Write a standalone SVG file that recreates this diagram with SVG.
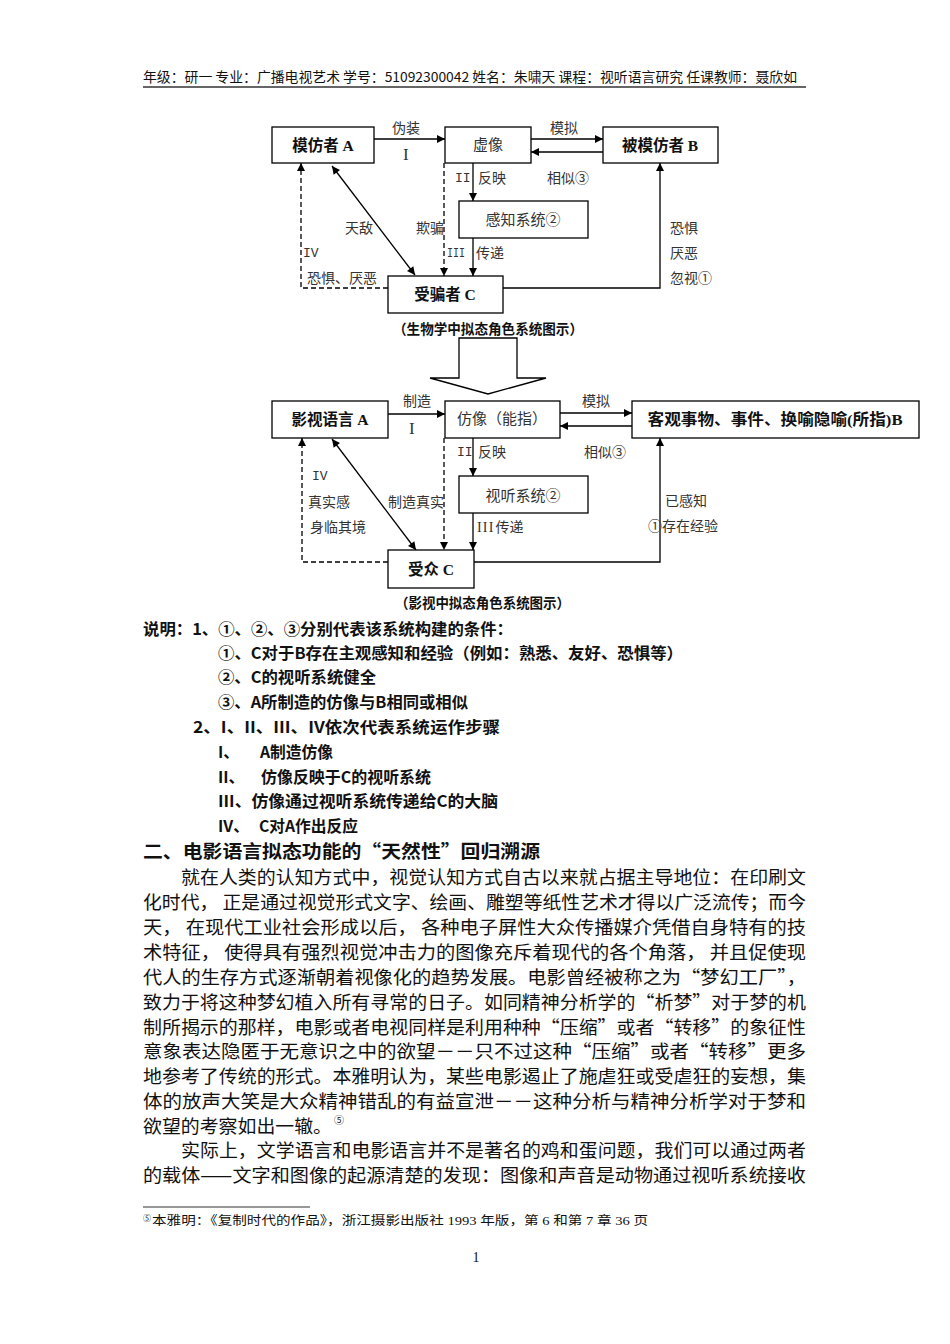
<svg xmlns="http://www.w3.org/2000/svg" width="950" height="1344" viewBox="0 0 950 1344">
<style>
text{fill:#111}
.box{fill:#fff;stroke:#000;stroke-width:1.3}
.bl{font-family:"Liberation Serif","Noto Sans CJK SC",serif;font-weight:bold;font-size:15.5px;text-anchor:middle;dominant-baseline:central}
.nl{font-family:"Noto Sans CJK SC",sans-serif;font-size:15px;text-anchor:middle;dominant-baseline:central;fill:#333}
.lb{font-family:"Liberation Serif","Noto Sans CJK SC",serif;font-size:14px;dominant-baseline:central;fill:#333}
.rm{font-family:"Liberation Mono",monospace;font-size:13px;dominant-baseline:central;fill:#333}
.rn{font-family:"Liberation Serif",serif;font-size:17px;dominant-baseline:central;fill:#333}
.cap{font-family:"Noto Sans CJK SC",sans-serif;font-weight:bold;font-size:14px;dominant-baseline:central}
.ln{fill:none;stroke:#000;stroke-width:1.3}
.ds{fill:none;stroke:#000;stroke-width:1.3;stroke-dasharray:5,3}
.ex{font-family:"Noto Sans CJK SC",sans-serif;font-weight:bold;font-size:16px;dominant-baseline:central}
.bd{font-family:"Noto Sans CJK SC",sans-serif;font-size:18.5px;dominant-baseline:central;fill:#111}
</style>
<defs>
<marker id="ah" viewBox="0 0 10 10" refX="10" refY="5" markerWidth="9" markerHeight="8" markerUnits="userSpaceOnUse" orient="auto-start-reverse"><path d="M0,0 L10,5 L0,10 z" fill="#000"/></marker>
</defs>

<g id="header">
<text x="143" y="76" font-family="Noto Sans CJK SC,sans-serif" font-size="13.5" dominant-baseline="central" textLength="654" lengthAdjust="spacingAndGlyphs" fill="#222">年级：研一 专业：广播电视艺术 学号：51092300042 姓名：朱啸天 课程：视听语言研究 任课教师：聂欣如</text>
<line x1="143" y1="87" x2="806" y2="87" stroke="#333" stroke-width="1.6"/>
</g>

<!-- Top diagram -->
<g id="connectors-top">
<line class="ln" x1="374" y1="139" x2="445" y2="139" marker-end="url(#ah)"/>
<line class="ln" x1="531" y1="139" x2="603" y2="139" marker-end="url(#ah)"/>
<line class="ln" x1="603" y1="152" x2="531" y2="152" marker-end="url(#ah)"/>
<line class="ln" x1="473" y1="163" x2="473" y2="201" marker-end="url(#ah)"/>
<line class="ln" x1="473" y1="238" x2="473" y2="276" marker-end="url(#ah)"/>
<line class="ds" x1="444" y1="163" x2="444" y2="276" marker-end="url(#ah)"/>
<line class="ln" x1="332" y1="166" x2="415" y2="275" marker-start="url(#ah)" marker-end="url(#ah)"/>
<polyline class="ds" points="388,288 301,288 301,163" marker-end="url(#ah)"/>
<polyline class="ln" points="503,288 660,288 660,163" marker-end="url(#ah)"/>
</g>
<g id="nodeA1"><rect class="box" x="272" y="127" width="102" height="36"/><text class="bl" x="323" y="145">模仿者 A</text></g>
<g id="node-xuxiang"><rect class="box" x="445" y="127" width="86" height="36"/><text class="nl" x="488" y="143">虚像</text></g>
<g id="nodeB1"><rect class="box" x="603" y="127" width="115" height="36"/><text class="bl" x="660" y="145">被模仿者 B</text></g>
<g id="node-ganzhi"><rect class="box" x="459" y="201" width="129" height="37"/><text class="nl" x="523" y="218">感知系统②</text></g>
<g id="nodeC1"><rect class="box" x="388" y="276" width="115" height="37"/><text class="bl" x="445" y="294">受骗者 C</text></g>
<g id="labels-top">
<text class="lb" x="392" y="128">伪装</text>
<text class="rn" x="403" y="154">I</text>
<text class="lb" x="550" y="128">模拟</text>
<text class="rm" x="455" y="178">II</text><text class="lb" x="478" y="178">反映</text>
<text class="lb" x="547" y="178">相似③</text>
<text class="lb" x="345" y="228">天敌</text>
<text class="lb" x="416" y="228">欺骗</text>
<text class="rm" x="447" y="253" textLength="18" lengthAdjust="spacingAndGlyphs">III</text><text class="lb" x="476" y="253">传递</text>
<text class="rm" x="303" y="253">IV</text>
<text class="lb" x="307" y="278">恐惧、厌恶</text>
<text class="lb" x="670" y="228">恐惧</text>
<text class="lb" x="670" y="253">厌恶</text>
<text class="lb" x="670" y="278">忽视①</text>
<text class="cap" x="393" y="328" textLength="190" lengthAdjust="spacingAndGlyphs">（生物学中拟态角色系统图示）</text>
</g>

<g id="big-arrow"><polygon points="459,338 517,338 517,378 546,378 488,394 430,378 459,378" fill="#fff" stroke="#000" stroke-width="1.3"/></g>

<!-- Bottom diagram -->
<g id="connectors-bottom">
<line class="ln" x1="388" y1="414" x2="445" y2="414" marker-end="url(#ah)"/>
<line class="ln" x1="560" y1="413" x2="632" y2="413" marker-end="url(#ah)"/>
<line class="ln" x1="632" y1="426" x2="560" y2="426" marker-end="url(#ah)"/>
<line class="ln" x1="473" y1="438" x2="473" y2="476" marker-end="url(#ah)"/>
<line class="ln" x1="473" y1="513" x2="473" y2="550" marker-end="url(#ah)"/>
<line class="ds" x1="444" y1="438" x2="444" y2="550" marker-end="url(#ah)"/>
<line class="ln" x1="332" y1="439" x2="416" y2="550" marker-start="url(#ah)" marker-end="url(#ah)"/>
<polyline class="ds" points="388,562 302,562 302,438" marker-end="url(#ah)"/>
<polyline class="ln" points="474,562 660,562 660,438" marker-end="url(#ah)"/>
</g>
<g id="nodeA2"><rect class="box" x="272" y="401" width="116" height="37"/><text class="bl" x="330" y="419">影视语言 A</text></g>
<g id="node-fangxiang"><rect class="box" x="445" y="401" width="115" height="37"/><text class="nl" x="502" y="417">仿像（能指）</text></g>
<g id="nodeB2"><rect class="box" x="632" y="401" width="287" height="37"/><text class="bl" x="775" y="419" font-size="16" textLength="255" lengthAdjust="spacingAndGlyphs">客观事物、事件、换喻隐喻(所指)B</text></g>
<g id="node-shiting"><rect class="box" x="459" y="476" width="129" height="37"/><text class="nl" x="523" y="494">视听系统②</text></g>
<g id="nodeC2"><rect class="box" x="388" y="550" width="86" height="38"/><text class="bl" x="431" y="569">受众 C</text></g>
<g id="labels-bottom">
<text class="lb" x="403" y="401">制造</text>
<text class="rn" x="409" y="428">I</text>
<text class="lb" x="582" y="401">模拟</text>
<text class="rm" x="457" y="452">II</text><text class="lb" x="478" y="452">反映</text>
<text class="lb" x="584" y="452">相似③</text>
<text class="rm" x="312" y="476">IV</text>
<text class="lb" x="308" y="502">真实感</text>
<text class="lb" x="310" y="527">身临其境</text>
<text class="lb" x="388" y="502">制造真实</text>
<text class="lb" x="477" y="527"><tspan letter-spacing="1.2">III</tspan><tspan dx="1">传递</tspan></text>
<text class="lb" x="665" y="501">已感知</text>
<text class="lb" x="648" y="526">①存在经验</text>
<text class="cap" x="395" y="602" textLength="175" lengthAdjust="spacingAndGlyphs">（影视中拟态角色系统图示）</text>
</g>

<g id="explanation">
<text class="ex" x="143" y="628" textLength="370" lengthAdjust="spacingAndGlyphs">说明：1、①、②、③分别代表该系统构建的条件：</text>
<text class="ex" x="218" y="652" textLength="465" lengthAdjust="spacingAndGlyphs">①、C对于B存在主观感知和经验（例如：熟悉、友好、恐惧等）</text>
<text class="ex" x="218" y="676" textLength="158" lengthAdjust="spacingAndGlyphs">②、C的视听系统健全</text>
<text class="ex" x="218" y="701" textLength="250" lengthAdjust="spacingAndGlyphs">③、A所制造的仿像与B相同或相似</text>
<text class="ex" x="193" y="726" textLength="307" lengthAdjust="spacingAndGlyphs">2、I、II、III、IV依次代表系统运作步骤</text>
<text class="ex" x="218" y="751">I、</text><text class="ex" x="260" y="751" textLength="73" lengthAdjust="spacingAndGlyphs">A制造仿像</text>
<text class="ex" x="218" y="776">II、</text><text class="ex" x="261" y="776" textLength="170" lengthAdjust="spacingAndGlyphs">仿像反映于C的视听系统</text>
<text class="ex" x="218" y="800" textLength="280" lengthAdjust="spacingAndGlyphs">III、仿像通过视听系统传递给C的大脑</text>
<text class="ex" x="218" y="825">IV、</text><text class="ex" x="259" y="825" textLength="99" lengthAdjust="spacingAndGlyphs">C对A作出反应</text>
</g>

<g id="body">
<text x="143" y="850" font-family="Noto Sans CJK SC,sans-serif" font-weight="bold" font-size="18" dominant-baseline="central" textLength="397" lengthAdjust="spacingAndGlyphs">二、电影语言拟态功能的“天然性”回归溯源</text>
<text class="bd" x="181" y="876" textLength="625" lengthAdjust="spacingAndGlyphs">就在人类的认知方式中，视觉认知方式自古以来就占据主导地位：在印刷文</text>
<text class="bd" x="143" y="901" textLength="663" lengthAdjust="spacingAndGlyphs">化时代， 正是通过视觉形式文字、绘画、雕塑等纸性艺术才得以广泛流传；而今</text>
<text class="bd" x="143" y="926" textLength="663" lengthAdjust="spacingAndGlyphs">天， 在现代工业社会形成以后， 各种电子屏性大众传播媒介凭借自身特有的技</text>
<text class="bd" x="143" y="951" textLength="663" lengthAdjust="spacingAndGlyphs">术特征， 使得具有强烈视觉冲击力的图像充斥着现代的各个角落， 并且促使现</text>
<text class="bd" x="143" y="976" textLength="663" lengthAdjust="spacingAndGlyphs">代人的生存方式逐渐朝着视像化的趋势发展。电影曾经被称之为“梦幻工厂”，</text>
<text class="bd" x="143" y="1001" textLength="663" lengthAdjust="spacingAndGlyphs">致力于将这种梦幻植入所有寻常的日子。如同精神分析学的“析梦”对于梦的机</text>
<text class="bd" x="143" y="1026" textLength="663" lengthAdjust="spacingAndGlyphs">制所揭示的那样，电影或者电视同样是利用种种“压缩”或者“转移”的象征性</text>
<text class="bd" x="143" y="1050" textLength="663" lengthAdjust="spacingAndGlyphs">意象表达隐匿于无意识之中的欲望－－只不过这种“压缩”或者“转移”更多</text>
<text class="bd" x="143" y="1075" textLength="663" lengthAdjust="spacingAndGlyphs">地参考了传统的形式。本雅明认为，某些电影遏止了施虐狂或受虐狂的妄想，集</text>
<text class="bd" x="143" y="1100" textLength="663" lengthAdjust="spacingAndGlyphs">体的放声大笑是大众精神错乱的有益宣泄－－这种分析与精神分析学对于梦和</text>
<text class="bd" x="143" y="1125" textLength="189" lengthAdjust="spacingAndGlyphs">欲望的考察如出一辙。</text>
<text x="334" y="1119" font-family="Noto Sans CJK SC,sans-serif" font-size="10" dominant-baseline="central" fill="#333">⑤</text>
<text class="bd" x="181" y="1149" textLength="625" lengthAdjust="spacingAndGlyphs">实际上，文学语言和电影语言并不是著名的鸡和蛋问题，我们可以通过两者</text>
<text class="bd" x="143" y="1174" textLength="663" lengthAdjust="spacingAndGlyphs">的载体——文字和图像的起源清楚的发现：图像和声音是动物通过视听系统接收</text>
</g>

<g id="footnote">
<line x1="143" y1="1207" x2="310" y2="1207" stroke="#333" stroke-width="1.2"/>
<text x="143" y="1217" font-family="Noto Sans CJK SC,sans-serif" font-size="8" dominant-baseline="central" fill="#222">⑤</text>
<text x="152" y="1221" font-family="Liberation Serif,Noto Sans CJK SC,serif" font-size="12.5" dominant-baseline="central" textLength="496" lengthAdjust="spacingAndGlyphs" fill="#222">本雅明：《复制时代的作品》，浙江摄影出版社 1993 年版，第 6 和第 7 章 36 页</text>
<text x="476" y="1257" font-family="Liberation Serif,serif" font-size="14" text-anchor="middle" dominant-baseline="central" fill="#222">1</text>
</g>
</svg>
